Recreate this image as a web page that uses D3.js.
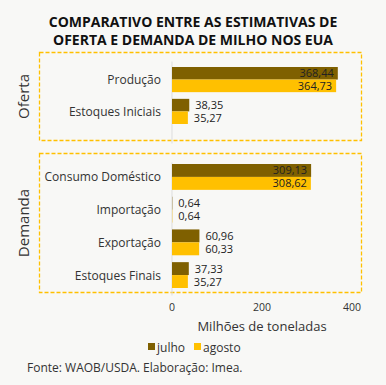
<!DOCTYPE html>
<html>
<head>
<meta charset="utf-8">
<script src="https://cdn.jsdelivr.net/npm/d3@7"></script>
<style>
  body { margin: 0; background: #f8f8f6; }
  svg { font-family: "Open Sans", Lato, sans-serif; }
</style>
</head>
<body>
<svg id="chart" width="386" height="385"></svg>
<script>
var ofertaCats = ["Produção", "Estoques Iniciais"];
var ofertaJulho = [368.44, 38.35];
var ofertaAgosto = [364.73, 35.27];

var demandaCats = ["Consumo Doméstico", "Importação", "Exportação", "Estoques Finais"];
var demandaJulho = [309.13, 0.64, 60.96, 37.33];
var demandaAgosto = [308.62, 0.64, 60.33, 35.27];

var ticks = [0, 200, 400];
var seriesNames = ["julho", "agosto"];
var colors = ["#7f6000", "#ffc000"];

var svg = d3.select("#chart");
svg.append("rect").attr("width", 386).attr("height", 385).attr("fill", "#f8f8f6");

var x = d3.scaleLinear().domain([0, 400]).range([172, 352]);

// title
svg.append("text").attr("x", 193).attr("y", 27).attr("text-anchor", "middle")
  .style("font-size", "14px").style("font-weight", "bold").attr("fill", "#111")
  .text("COMPARATIVO ENTRE AS ESTIMATIVAS DE");
svg.append("text").attr("x", 193).attr("y", 45).attr("text-anchor", "middle")
  .style("font-size", "14px").style("font-weight", "bold").attr("fill", "#111")
  .text("OFERTA E DEMANDA DE MILHO NOS EUA");

var fmt = function(v) { return d3.format(".2f")(v).replace(".", ","); };

function drawGroup(cats, jul, ago, top, bottom, boxTop, boxBottom, name) {
  svg.append("rect").attr("x", 39.5).attr("y", boxTop).attr("width", 322)
    .attr("height", boxBottom - boxTop).attr("fill", "none")
    .attr("stroke", "#ffc000").attr("stroke-width", 1.3).attr("stroke-dasharray", "4,2");

  var y = d3.scaleBand().domain(cats).range([top, bottom]).paddingInner(0.21).paddingOuter(0);
  var sub = d3.scaleBand().domain(seriesNames).range([0, y.bandwidth()]);

  svg.append("line").attr("x1", x(0)).attr("x2", x(0))
    .attr("y1", boxTop + 9).attr("y2", boxBottom + 3).attr("stroke", "#ddd");

  cats.forEach(function(c, i) {
    var vals = [jul[i], ago[i]];
    vals.forEach(function(v, k) {
      var yy = y(c) + sub(seriesNames[k]);
      svg.append("rect").attr("x", x(0)).attr("y", yy)
        .attr("width", x(v) - x(0)).attr("height", sub.bandwidth())
        .attr("fill", colors[k]);
      var inside = v > 200;
      svg.append("text")
        .attr("x", inside ? x(v) - 4 : x(v) + 6)
        .attr("y", yy + sub.bandwidth() / 2 + 4)
        .attr("text-anchor", inside ? "end" : "start")
        .style("font-size", "11px").attr("fill", "#222")
        .text(fmt(v));
    });
    svg.append("text").attr("x", 161).attr("y", y(c) + y.bandwidth() / 2 + 4.5)
      .attr("text-anchor", "end").style("font-size", "12px").attr("fill", "#333")
      .text(c);
  });

  var cy = (boxTop + boxBottom) / 2;
  svg.append("text").attr("transform", "translate(" + 29 + "," + cy + ") rotate(-90)")
    .attr("text-anchor", "middle").style("font-size", "15px").attr("fill", "#333")
    .text(name);
}

drawGroup(ofertaCats, ofertaJulho, ofertaAgosto, 67, 124, 52.5, 140.5, "Oferta");
drawGroup(demandaCats, demandaJulho, demandaAgosto, 164, 288, 153.5, 292.5, "Demanda");

// x axis ticks
ticks.forEach(function(t) {
  svg.append("text").attr("x", x(t)).attr("y", 311).attr("text-anchor", "middle")
    .style("font-size", "10.5px").attr("fill", "#333").text(t);
});
svg.append("text").attr("x", 262).attr("y", 331).attr("text-anchor", "middle")
  .style("font-size", "13px").attr("fill", "#333").text("Milhões de toneladas");

// legend
var lx = [148, 194];
seriesNames.forEach(function(s, k) {
  svg.append("rect").attr("x", lx[k]).attr("y", 343).attr("width", 7).attr("height", 7)
    .attr("fill", colors[k]);
  svg.append("text").attr("x", lx[k] + 9).attr("y", 351.5).style("font-size", "12px")
    .attr("fill", "#333").text(s);
});

svg.append("text").attr("x", 27).attr("y", 372).style("font-size", "12px")
  .attr("fill", "#333").text("Fonte: WAOB/USDA. Elaboração: Imea.");
</script>
</body>
</html>
